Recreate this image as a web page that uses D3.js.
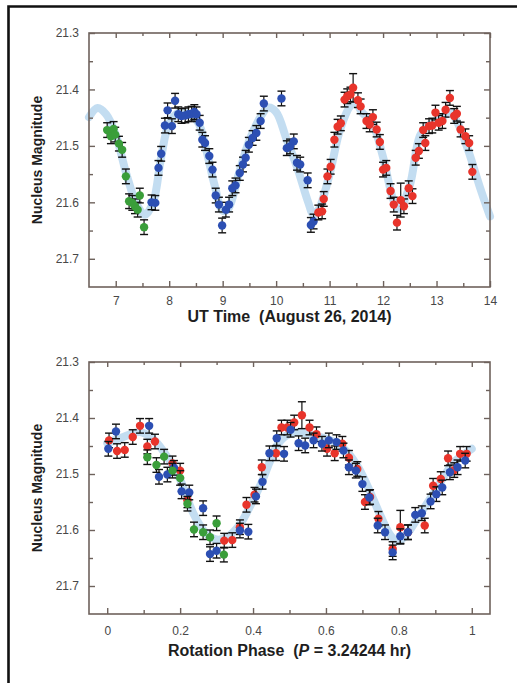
<!DOCTYPE html>
<html><head><meta charset="utf-8">
<script src="https://cdn.jsdelivr.net/npm/d3@7"></script>
<style>body{margin:0;background:#fff}svg{display:block}</style>
</head><body>
<script>
// ---------------- DATA ----------------
const timeTicks = [7, 8, 9, 10, 11, 12, 13, 14];
const timeTickLabels = ["7", "8", "9", "10", "11", "12", "13", "14"];
const timeMinorTicks = [7.5, 8.5, 9.5, 10.5, 11.5, 12.5, 13.5];
const phaseTicks = [0, 0.2, 0.4, 0.6, 0.8, 1];
const phaseTickLabels = ["0", "0.2", "0.4", "0.6", "0.8", "1"];
const phaseMinorTicks = [0.1, 0.3, 0.5, 0.7, 0.9];
const magTicks = [21.3, 21.4, 21.5, 21.6, 21.7];
const magTickLabels = ["21.3", "21.4", "21.5", "21.6", "21.7"];
const magMinorTicks = [21.35, 21.45, 21.55, 21.65];

// Top panel: [UT hour, magnitude, (error)]
const greenTop = [[6.84,21.472],[6.91,21.483],[6.96,21.470],[6.99,21.480],[7.06,21.496],[7.12,21.507],[7.19,21.554],[7.25,21.598],[7.31,21.601],[7.36,21.607],[7.41,21.613],[7.45,21.588],[7.53,21.644]];
const blueTop = [[7.67,21.600],[7.74,21.601],[7.80,21.539],[7.85,21.514],[7.92,21.464],[7.97,21.437],[8.05,21.465],[8.11,21.420],[8.17,21.444],[8.23,21.447],[8.30,21.446],[8.36,21.444],[8.42,21.443],[8.47,21.440],[8.51,21.444],[8.57,21.459],[8.62,21.489],[8.67,21.495],[8.75,21.518],[8.81,21.542],[8.87,21.588],[8.93,21.604],[8.99,21.641],[9.06,21.613],[9.12,21.604],[9.18,21.575],[9.24,21.570],[9.32,21.548],[9.38,21.533],[9.43,21.521],[9.49,21.498],[9.56,21.486],[9.63,21.477],[9.71,21.456],[9.77,21.425],[10.10,21.416],[10.20,21.504],[10.26,21.501],[10.33,21.492],[10.39,21.530],[10.45,21.533],[10.59,21.561],[10.65,21.640],[10.70,21.634]];
const redTop = [[10.79,21.618],[10.86,21.616],[10.89,21.594],[10.96,21.554],[11.02,21.537],[11.09,21.489],[11.15,21.466],[11.21,21.460],[11.28,21.418],[11.33,21.412],[11.39,21.409],[11.44,21.397,0.025],[11.53,21.419],[11.58,21.430],[11.69,21.456],[11.75,21.462],[11.81,21.449],[11.88,21.471],[11.94,21.493],[12.00,21.542],[12.06,21.539],[12.14,21.580],[12.20,21.604],[12.26,21.636],[12.33,21.596,0.03],[12.39,21.607],[12.48,21.575],[12.55,21.589],[12.61,21.521],[12.67,21.509],[12.75,21.472],[12.79,21.495],[12.86,21.465],[12.92,21.464],[12.98,21.441],[13.04,21.459],[13.11,21.456],[13.17,21.436],[13.25,21.415],[13.33,21.447],[13.38,21.443],[13.45,21.471],[13.54,21.483],[13.61,21.495],[13.67,21.546]];
const fitTopT   = [6.5, 6.66, 6.82, 7.0, 7.2, 7.4, 7.55, 7.7, 7.85, 8.0, 8.2, 8.4, 8.55, 8.7, 8.85, 9.0, 9.1, 9.3, 9.5, 9.7, 9.85, 10.0, 10.2, 10.4, 10.6, 10.7, 10.8, 11.0, 11.2, 11.4, 11.5, 11.6, 11.8, 12.0, 12.2, 12.3, 12.5, 12.7, 12.9, 13.1, 13.25, 13.4, 13.6, 13.8, 14.0];
const fitTopMag = [21.449, 21.433, 21.444, 21.48, 21.55, 21.605, 21.622, 21.6, 21.52, 21.46, 21.44, 21.445, 21.46, 21.51, 21.57, 21.615, 21.612, 21.55, 21.49, 21.45, 21.432, 21.44, 21.49, 21.54, 21.6, 21.622, 21.612, 21.55, 21.47, 21.428, 21.425, 21.44, 21.46, 21.52, 21.598, 21.612, 21.57, 21.48, 21.46, 21.45, 21.44, 21.46, 21.51, 21.57, 21.625];

// Bottom panel: [rotation phase, magnitude, (error)]
const blueBottom = [[0.003,21.455],[0.024,21.424],[0.115,21.414],[0.142,21.505],[0.165,21.501],[0.183,21.489],[0.204,21.531],[0.225,21.533],[0.263,21.561],[0.282,21.643],[0.300,21.637],[0.364,21.601],[0.387,21.603],[0.408,21.540],[0.426,21.514],[0.445,21.463],[0.465,21.436],[0.485,21.464],[0.503,21.421],[0.525,21.445],[0.543,21.449],[0.566,21.440],[0.589,21.446],[0.608,21.440],[0.629,21.443],[0.648,21.458],[0.663,21.488],[0.682,21.494],[0.700,21.518],[0.719,21.542],[0.742,21.592],[0.762,21.604],[0.783,21.640],[0.804,21.611],[0.825,21.604],[0.845,21.573],[0.863,21.570],[0.887,21.549],[0.903,21.536],[0.919,21.524],[0.940,21.497],[0.961,21.488],[0.982,21.476]];
const redBottom = [[0.005,21.440],[0.027,21.459],[0.048,21.457],[0.070,21.434],[0.090,21.414],[0.110,21.451],[0.131,21.442],[0.179,21.481],[0.200,21.494],[0.220,21.547],[0.321,21.619],[0.343,21.618],[0.364,21.595],[0.382,21.555],[0.404,21.537],[0.424,21.488],[0.463,21.463],[0.478,21.417],[0.494,21.417],[0.513,21.408],[0.534,21.395,0.024],[0.555,21.417],[0.574,21.429],[0.603,21.455],[0.624,21.463],[0.645,21.446],[0.663,21.471],[0.686,21.491],[0.707,21.550],[0.721,21.541],[0.744,21.580],[0.783,21.634],[0.804,21.595,0.03],[0.825,21.604],[0.871,21.592],[0.894,21.521],[0.915,21.509],[0.935,21.472],[0.952,21.493],[0.968,21.464],[0.986,21.464]];
const greenBottom = [[0.110,21.470],[0.135,21.484],[0.156,21.469],[0.179,21.494],[0.200,21.507],[0.220,21.553],[0.238,21.599],[0.263,21.604],[0.282,21.613],[0.300,21.588],[0.320,21.644]];
const fitPhase = [0.0, 0.04, 0.09, 0.13, 0.17, 0.2, 0.236, 0.27, 0.3, 0.33, 0.364, 0.39, 0.42, 0.445, 0.465, 0.49, 0.52, 0.56, 0.6, 0.63, 0.66, 0.69, 0.72, 0.75, 0.78, 0.8, 0.825, 0.85, 0.9, 0.95, 1.0];
const fitPhaseMag = [21.445, 21.435, 21.425, 21.44, 21.475, 21.51, 21.57, 21.605, 21.617, 21.612, 21.59, 21.56, 21.52, 21.48, 21.45, 21.432, 21.425, 21.43, 21.437, 21.445, 21.462, 21.49, 21.53, 21.575, 21.612, 21.62, 21.605, 21.58, 21.53, 21.48, 21.455];

const defaultErr = 0.013;

// ---------------- DRAW ----------------
const W = 517, H = 683;
const svg = d3.select("body").append("svg").attr("width", W).attr("height", H);
const C = { blue: "#2c4fb3", red: "#e8342b", green: "#3a9e3a", fit: "#bcd9ef", axis: "#6e625c", tick: "#474747", title: "#1e1e1e" };

// outer frame (open at right/bottom)
svg.append("path").attr("d", `M8.5,${H} L8.5,6.5 L${W},6.5`).attr("fill", "none").attr("stroke", "#111").attr("stroke-width", 2.6);

function panel(opt) {
  const x = d3.scaleLinear().domain(opt.xDomain).range([89, 490]);
  const y = d3.scaleLinear().domain([21.3, 21.75]).range([opt.top, opt.bottom]);
  const g = svg.append("g");

  // fit curve
  const line = d3.line().x(d => x(d[0])).y(d => y(d[1])).curve(d3.curveCatmullRom.alpha(0.5));
  g.append("path").datum(opt.fitX.map((v, i) => [v, opt.fitY[i]]))
    .attr("d", line).attr("fill", "none").attr("stroke", C.fit).attr("stroke-width", 8)
    .attr("stroke-linecap", "round").attr("opacity", 0.9);

  // axes
  function styleAxis(sel) {
    sel.select(".domain").remove();
    sel.selectAll(".tick line").attr("stroke", C.axis).attr("stroke-width", 1.4);
    sel.selectAll(".tick text").attr("fill", C.tick).attr("font-family", "Liberation Sans, Arial, sans-serif").attr("font-size", 12);
  }
  const bx = g.append("g").attr("transform", `translate(0,${opt.bottom})`)
    .call(d3.axisBottom(x).tickValues(opt.xTicks).tickFormat((d, i) => opt.xLabels[i]).tickSize(-6).tickPadding(opt.xPad));
  styleAxis(bx);
  styleAxis(g.append("g").attr("transform", `translate(0,${opt.bottom})`).call(d3.axisBottom(x).tickValues(opt.xMinor).tickFormat("").tickSize(-4)));
  styleAxis(g.append("g").attr("transform", `translate(0,${opt.top})`).call(d3.axisTop(x).tickValues(opt.xTicks).tickFormat("").tickSize(-5)));
  styleAxis(g.append("g").attr("transform", `translate(0,${opt.top})`).call(d3.axisTop(x).tickValues(opt.xMinor).tickFormat("").tickSize(-3)));
  const ly = g.append("g").attr("transform", `translate(89,0)`)
    .call(d3.axisLeft(y).tickValues(magTicks).tickFormat((d, i) => magTickLabels[i]).tickSize(-6).tickPadding(10));
  styleAxis(ly);
  styleAxis(g.append("g").attr("transform", `translate(89,0)`).call(d3.axisLeft(y).tickValues(magMinorTicks).tickFormat("").tickSize(-4)));
  styleAxis(g.append("g").attr("transform", `translate(490,0)`).call(d3.axisRight(y).tickValues(magTicks).tickFormat("").tickSize(-6)));
  styleAxis(g.append("g").attr("transform", `translate(490,0)`).call(d3.axisRight(y).tickValues(magMinorTicks).tickFormat("").tickSize(-4)));

  g.append("rect").attr("x", 89).attr("y", opt.top).attr("width", 401).attr("height", opt.bottom - opt.top)
    .attr("fill", "none").attr("stroke", C.axis).attr("stroke-width", 1.6);

  // data
  opt.series.forEach(s => {
    const sg = g.append("g");
    s.data.forEach(d => {
      const e = d[2] || defaultErr;
      const cx = x(d[0]), y1 = y(d[1] - e), y2 = y(d[1] + e);
      sg.append("line").attr("x1", cx).attr("x2", cx).attr("y1", y1).attr("y2", y2).attr("stroke", "#111").attr("stroke-width", 1.2);
      [y1, y2].forEach(yy => sg.append("line").attr("x1", cx - 4).attr("x2", cx + 4).attr("y1", yy).attr("y2", yy).attr("stroke", "#111").attr("stroke-width", 1.4));
    });
    sg.selectAll("circle").data(s.data).join("circle")
      .attr("cx", d => x(d[0])).attr("cy", d => y(d[1])).attr("r", 4.2).attr("fill", s.color);
  });

  // titles
  g.append("text").attr("x", 289.5).attr("y", opt.titleY).attr("text-anchor", "middle")
    .attr("font-family", "Liberation Sans, Arial, sans-serif").attr("font-size", 16).attr("font-weight", "bold").attr("fill", C.title)
    .call(opt.titleFn);
  g.append("text").attr("transform", `translate(42,${(opt.top + opt.bottom) / 2}) rotate(-90)`).attr("text-anchor", "middle")
    .attr("font-family", "Liberation Sans, Arial, sans-serif").attr("font-size", 14).attr("font-weight", "bold").attr("fill", C.title)
    .text("Nucleus Magnitude");
}

panel({
  xDomain: [6.5, 14], top: 33, bottom: 287, xTicks: timeTicks, xLabels: timeTickLabels, xMinor: timeMinorTicks, xPad: 9,
  fitX: fitTopT, fitY: fitTopMag,
  series: [{ data: greenTop, color: C.green }, { data: blueTop, color: C.blue }, { data: redTop, color: C.red }],
  titleY: 322, titleFn: t => t.text("UT Time  (August 26, 2014)").attr("xml:space", "preserve").style("white-space", "pre")
});
panel({
  xDomain: [-0.05, 1.05], top: 362, bottom: 614, xTicks: phaseTicks, xLabels: phaseTickLabels, xMinor: phaseMinorTicks, xPad: 12,
  fitX: fitPhase, fitY: fitPhaseMag,
  series: [{ data: redBottom, color: C.red }, { data: blueBottom, color: C.blue }, { data: greenBottom, color: C.green }],
  titleY: 656, titleFn: t => {
    t.style("white-space", "pre");
    t.append("tspan").text("Rotation Phase  (");
    t.append("tspan").attr("font-style", "italic").text("P");
    t.append("tspan").text(" = 3.24244 hr)");
  }
});
</script>
</body></html>
